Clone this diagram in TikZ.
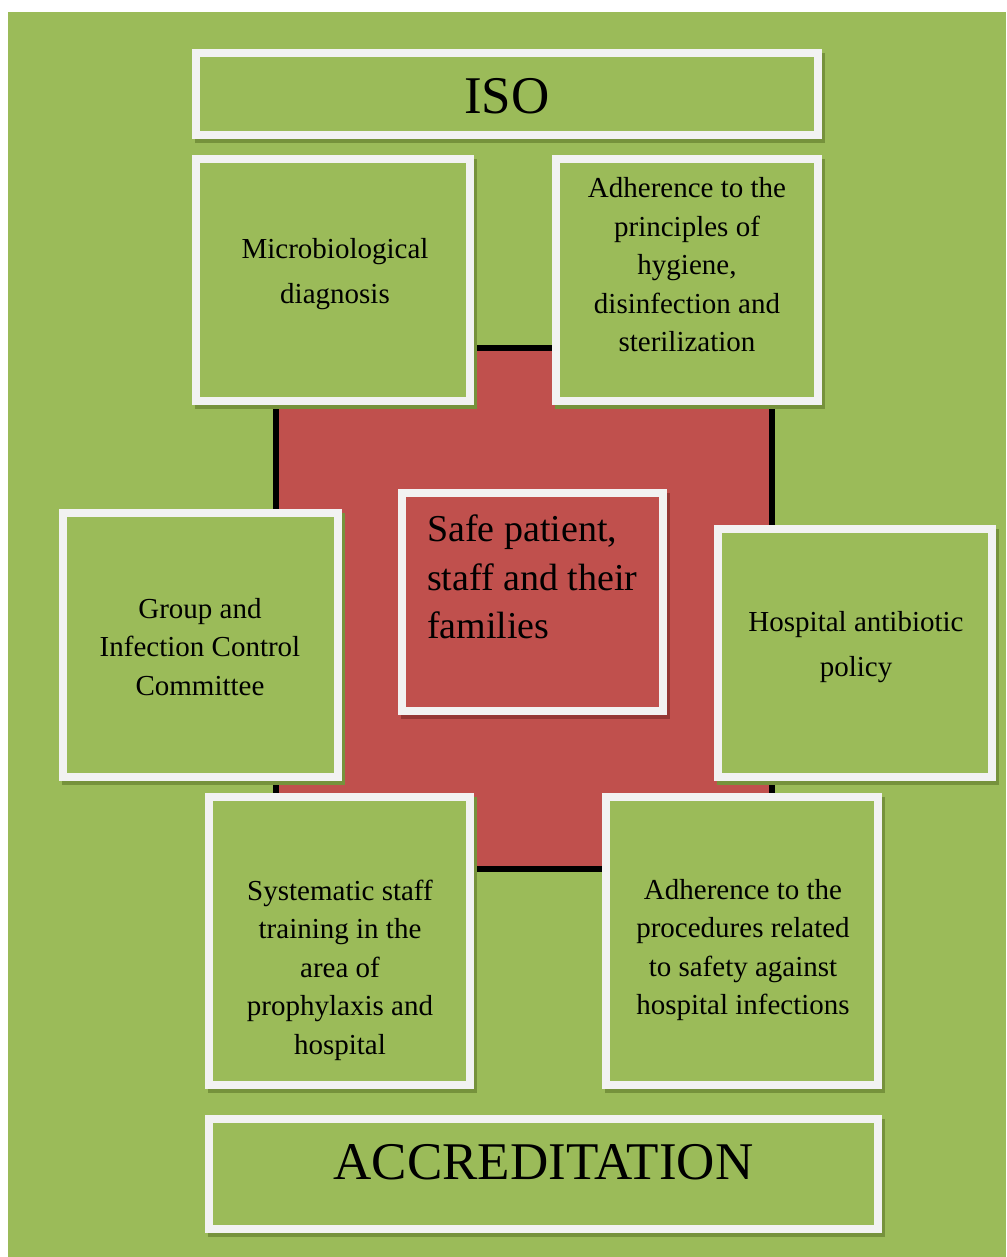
\documentclass[tikz,border=0pt]{standalone}
\usepackage{fontspec}
\setmainfont{Liberation Serif}
\definecolor{bggreen}{HTML}{9BBB59}
\definecolor{redfill}{HTML}{C0504D}
\definecolor{boxwhite}{HTML}{F2F2F2}
\definecolor{shgreen}{HTML}{76923C}
\definecolor{shred}{HTML}{953735}
\tikzset{
  wbox/.style={draw=boxwhite, line width=8pt, fill=bggreen, inner sep=0pt,
    preaction={draw=shgreen, fill=shgreen, line width=8pt, transform canvas={shift={(3pt,-4pt)}}}},
  rbox/.style={draw=boxwhite, line width=8pt, fill=redfill, inner sep=0pt,
    preaction={draw=shred, fill=shred, line width=8pt, transform canvas={shift={(3pt,-4pt)}}}},
  bodytxt/.style={inner sep=0pt, align=center, font=\fontsize{29}{38.5}\selectfont},
  widetxt/.style={inner sep=0pt, align=center, font=\fontsize{29}{44.5}\selectfont},
  bigtxt/.style={inner sep=0pt, font=\fontsize{53}{60}\selectfont},
}
\begin{document}
\begin{tikzpicture}[x=1pt,y=-1pt]
\useasboundingbox (0,0) rectangle (1006,1257);
\fill[white] (0,0) rectangle (1006,1257);
\node[fill=bggreen, inner sep=0pt, minimum width=998pt, minimum height=1245pt] (bg) at (507,634.5) {};
\node[draw=black, line width=6pt, fill=redfill, inner sep=0pt, minimum width=496pt, minimum height=521pt] (red) at (524,608.5) {};
% boxes
\node[wbox, minimum width=622pt, minimum height=82pt] (iso) at (507,94) {};
\node[wbox, minimum width=274pt, minimum height=242pt] (micro) at (333,280) {};
\node[wbox, minimum width=262pt, minimum height=242pt] (hyg) at (687,280) {};
\node[wbox, minimum width=275pt, minimum height=264pt] (grp) at (200.5,645) {};
\node[wbox, minimum width=274pt, minimum height=248pt] (hosp) at (855,653) {};
\node[wbox, minimum width=261pt, minimum height=288pt] (sys) at (339.5,941) {};
\node[wbox, minimum width=272pt, minimum height=288pt] (proc) at (742,941) {};
\node[wbox, minimum width=669pt, minimum height=110pt] (acc) at (543.5,1174) {};
\node[rbox, minimum width=261pt, minimum height=218pt] (safe) at (532.5,602) {};
% texts
\node[bigtxt] (tiso) at (507,96.5) {ISO};
\node[widetxt] (tmicro) at (335,274) {Microbiological\\diagnosis};
\node[bodytxt] (thyg) at (687,265) {Adherence to the\\principles of\\hygiene,\\disinfection and\\sterilization};
\node[bodytxt] (tgrp) at (200,647) {Group and\\Infection Control\\Committee};
\node[widetxt] (thosp) at (856,647) {Hospital antibiotic\\policy};
\node[bodytxt] (tsys) at (340,970) {Systematic staff\\training in the\\area of\\prophylaxis and\\hospital};
\node[bodytxt] (tproc) at (743,950) {Adherence to the\\procedures related\\to safety against\\hospital infections};
\node[inner sep=0pt, align=left, anchor=west, font=\fontsize{38}{48.5}\selectfont] (tsafe) at (427,577) {Safe patient,\\staff and their\\families};
\node[bigtxt] (tacc) at (543.5,1162.5) {ACCREDITATION};
\end{tikzpicture}
\end{document}
